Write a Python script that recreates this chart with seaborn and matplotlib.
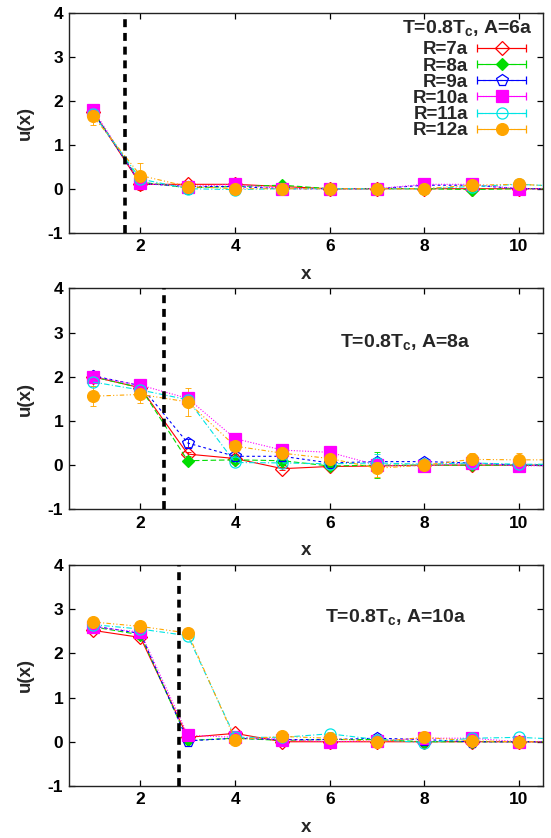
import numpy as np
import matplotlib
matplotlib.use("Agg")
import matplotlib.pyplot as plt
import seaborn as sns
from matplotlib.container import ErrorbarContainer
from matplotlib.legend_handler import HandlerErrorbar

# ---------------- data ----------------
x = [1, 2, 3, 4, 5, 6, 7, 8, 9, 10, 11]
series_labels = ["R=7a", "R=8a", "R=9a", "R=10a", "R=11a", "R=12a"]
panel_titles = ["T=0.8T$_\\mathbf{c}$, A=6a", "T=0.8T$_\\mathbf{c}$, A=8a", "T=0.8T$_\\mathbf{c}$, A=10a"]
cut_positions = [1.68, 2.5, 2.82]
x_ticks = [2, 4, 6, 8, 10]
y_ticks = [-1, 0, 1, 2, 3, 4]

# A = 6a
a6_r7 = [1.75, 0.10, 0.10, 0.10, 0.05, 0.00, 0.00, 0.00, 0.00, 0.00, 0.00]
a6_r8 = [1.75, 0.15, 0.02, 0.05, 0.08, 0.00, 0.00, 0.00, -0.02, 0.00, 0.00]
a6_r9 = [1.75, 0.12, 0.05, 0.05, 0.00, 0.00, 0.00, 0.08, 0.08, 0.00, 0.00]
a6_r10 = [1.80, 0.12, 0.05, 0.10, 0.00, 0.00, 0.00, 0.10, 0.10, 0.00, 0.00]
a6_r11 = [1.70, 0.22, 0.00, -0.02, 0.00, 0.00, 0.00, 0.00, 0.05, 0.10, 0.05]
a6_r12 = [1.65, 0.30, 0.05, 0.00, 0.00, 0.00, 0.00, 0.00, 0.08, 0.10, 0.05]
a6_e7 = [0.06, 0.12, 0.06, 0.04, 0.03, 0.02, 0.02, 0.02, 0.02, 0.02, 0.02]
a6_e8 = [0.06, 0.10, 0.15, 0.04, 0.04, 0.02, 0.02, 0.02, 0.03, 0.02, 0.02]
a6_e9 = [0.06, 0.08, 0.05, 0.04, 0.03, 0.02, 0.02, 0.03, 0.03, 0.02, 0.02]
a6_e10 = [0.06, 0.08, 0.05, 0.04, 0.03, 0.02, 0.02, 0.03, 0.03, 0.02, 0.02]
a6_e11 = [0.10, 0.15, 0.05, 0.04, 0.03, 0.02, 0.02, 0.02, 0.03, 0.03, 0.02]
a6_e12 = [0.20, 0.29, 0.06, 0.04, 0.03, 0.02, 0.02, 0.02, 0.03, 0.03, 0.02]

# A = 8a
a8_r7 = [2.00, 1.75, 0.25, 0.15, -0.08, -0.03, -0.02, 0.00, 0.00, 0.00, 0.00]
a8_r8 = [2.00, 1.75, 0.10, 0.12, 0.10, -0.02, 0.00, 0.00, 0.00, 0.00, 0.00]
a8_r9 = [2.02, 1.80, 0.50, 0.20, 0.20, 0.05, 0.08, 0.08, 0.05, 0.00, 0.00]
a8_r10 = [2.00, 1.81, 1.51, 0.60, 0.34, 0.29, 0.00, -0.02, 0.05, -0.02, 0.00]
a8_r11 = [1.88, 1.70, 1.48, 0.06, 0.05, 0.03, 0.05, 0.02, 0.05, 0.02, 0.02]
a8_r12 = [1.56, 1.60, 1.43, 0.43, 0.27, 0.15, -0.07, 0.00, 0.13, 0.12, 0.12]
a8_e7 = [0.05, 0.06, 0.05, 0.04, 0.04, 0.03, 0.03, 0.02, 0.02, 0.02, 0.02]
a8_e8 = [0.05, 0.06, 0.04, 0.04, 0.04, 0.03, 0.30, 0.02, 0.02, 0.02, 0.02]
a8_e9 = [0.05, 0.12, 0.10, 0.06, 0.04, 0.03, 0.05, 0.03, 0.03, 0.02, 0.02]
a8_e10 = [0.05, 0.06, 0.06, 0.05, 0.04, 0.03, 0.03, 0.03, 0.03, 0.02, 0.02]
a8_e11 = [0.08, 0.08, 0.08, 0.04, 0.04, 0.03, 0.20, 0.03, 0.03, 0.02, 0.02]
a8_e12 = [0.22, 0.20, 0.32, 0.10, 0.06, 0.05, 0.20, 0.04, 0.15, 0.15, 0.10]

# A = 10a
a10_r7 = [2.52, 2.36, 0.10, 0.19, 0.00, 0.00, 0.00, 0.00, 0.00, 0.00, 0.00]
a10_r8 = [2.60, 2.42, 0.03, 0.08, 0.03, 0.05, 0.05, 0.00, 0.00, 0.00, 0.00]
a10_r9 = [2.62, 2.45, 0.02, 0.08, 0.05, 0.05, 0.08, 0.05, 0.00, 0.00, 0.00]
a10_r10 = [2.60, 2.48, 0.15, 0.10, 0.05, 0.00, 0.02, 0.08, 0.08, 0.00, 0.00]
a10_r11 = [2.65, 2.55, 2.40, 0.10, 0.10, 0.18, 0.05, -0.02, 0.08, 0.10, 0.05]
a10_r12 = [2.71, 2.61, 2.46, 0.05, 0.12, 0.08, 0.00, 0.10, 0.02, 0.00, 0.00]
a10_e7 = [0.04, 0.04, 0.04, 0.04, 0.03, 0.02, 0.02, 0.02, 0.02, 0.02, 0.02]
a10_e8 = [0.04, 0.04, 0.03, 0.03, 0.03, 0.02, 0.02, 0.02, 0.02, 0.02, 0.02]
a10_e9 = [0.04, 0.04, 0.03, 0.03, 0.03, 0.02, 0.02, 0.02, 0.02, 0.02, 0.02]
a10_e10 = [0.04, 0.04, 0.04, 0.03, 0.03, 0.02, 0.02, 0.02, 0.02, 0.02, 0.02]
a10_e11 = [0.04, 0.04, 0.04, 0.03, 0.03, 0.03, 0.02, 0.02, 0.02, 0.02, 0.02]
a10_e12 = [0.04, 0.04, 0.04, 0.03, 0.03, 0.03, 0.02, 0.02, 0.02, 0.02, 0.02]

panels = [
    ([a6_r7, a6_r8, a6_r9, a6_r10, a6_r11, a6_r12], [a6_e7, a6_e8, a6_e9, a6_e10, a6_e11, a6_e12]),
    ([a8_r7, a8_r8, a8_r9, a8_r10, a8_r11, a8_r12], [a8_e7, a8_e8, a8_e9, a8_e10, a8_e11, a8_e12]),
    ([a10_r7, a10_r8, a10_r9, a10_r10, a10_r11, a10_r12], [a10_e7, a10_e8, a10_e9, a10_e10, a10_e11, a10_e12]),
]

# ---------------- styles ----------------
colors = ["#ff0000", "#00dd00", "#0000ff", "#ff00ff", "#00e5e5", "#ffa500"]
markers = ["D", "D", "p", "s", "o", "o"]
msizes = [7.0, 6.5, 8.5, 8.0, 8.0, 8.5]
filled = [False, True, False, True, False, True]
lstyles = ["-", (0, (5, 2.5)), (0, (2.5, 2.5)), (0, (1, 1.5)), (0, (5, 2, 1, 2)), (0, (4, 2, 1, 2, 1, 2))]

sns.set_theme(style="ticks")
plt.rcParams["font.family"] = ["Liberation Sans", "DejaVu Sans"]
plt.rcParams["font.weight"] = "bold"
plt.rcParams["axes.labelweight"] = "bold"
plt.rcParams["axes.unicode_minus"] = False
plt.rcParams["mathtext.fontset"] = "custom"
plt.rcParams["mathtext.bf"] = "Liberation Sans:bold"
plt.rcParams["mathtext.rm"] = "Liberation Sans:bold"
plt.rcParams["mathtext.default"] = "bf"

fig = plt.figure(figsize=(5.51, 8.38), dpi=100)
left, width = 0.1261, 0.8588
bottoms = [0.7223, 0.3922, 0.0621]
heights = [0.2625, 0.2637, 0.2637]
title_pos = [(0.9795, 0.932, "right"), (0.710, 0.757, "center"), (0.690, 0.765, "center")]

for p, (ys_list, es_list) in enumerate(panels):
    ax = fig.add_axes([left, bottoms[p], width, heights[p]])
    for i in range(6):
        ax.errorbar(x, ys_list[i], yerr=es_list[i], fmt="none", ecolor=colors[i],
                    elinewidth=0.7, capsize=2.0, capthick=0.7, alpha=0.9, zorder=2)
        sns.lineplot(x=x, y=ys_list[i], ax=ax, color=colors[i], linestyle=lstyles[i],
                     lw=0.8, marker=markers[i], markersize=msizes[i],
                     markerfacecolor=colors[i] if filled[i] else "none",
                     markeredgecolor=colors[i], markeredgewidth=0.9,
                     legend=False, errorbar=None, sort=False, zorder=3)
    ax.axvline(cut_positions[p], color="black", lw=2.6, ls=(0, (2.2, 1.6)), zorder=4)
    ax.set_xlim(0.5, 10.5)
    ax.set_ylim(-1, 4)
    ax.set_xticks(x_ticks)
    ax.set_yticks(y_ticks)
    ax.tick_params(direction="in", top=True, right=True, length=4, width=0.9,
                   labelsize=12.5, pad=4.5, colors="black")
    for lab in ax.get_xticklabels() + ax.get_yticklabels():
        lab.set_fontweight("bold")
    for s in ax.spines.values():
        s.set_linewidth(1.0)
        s.set_color("#222222")
    ax.set_xlabel("x", fontsize=13.5, fontweight="bold")
    ax.set_ylabel("u(x)", fontsize=13.5, fontweight="bold")
    ax.xaxis.set_label_coords(0.5, -0.15)
    ax.yaxis.set_label_coords(-0.075, 0.5)
    tx, ty, tha = title_pos[p]
    ax.text(tx, ty, panel_titles[p], transform=ax.transAxes, ha=tha, va="center",
            fontsize=14, fontweight="bold")

    if p == 0:
        handles = []
        for i in range(6):
            h = ax.errorbar([np.nan], [np.nan], xerr=[0.1], color=colors[i], ls=lstyles[i],
                            lw=0.8, marker=markers[i], markersize=msizes[i],
                            markerfacecolor=colors[i] if filled[i] else "none",
                            markeredgecolor=colors[i], markeredgewidth=0.9,
                            elinewidth=0.8, capsize=3.0, capthick=0.8)
            handles.append(h)
        leg = ax.legend(handles, series_labels, loc="upper right",
                        bbox_to_anchor=(0.965, 0.87), frameon=False, markerfirst=False,
                        fontsize=13.5, handlelength=2.6, handletextpad=0.5,
                        labelspacing=-0.05, borderpad=0, borderaxespad=0, numpoints=1,
                        handler_map={ErrorbarContainer: HandlerErrorbar(xerr_size=1.3)})
        for t in leg.get_texts():
            t.set_fontweight("bold")

fig.savefig("out.png", dpi=100)
